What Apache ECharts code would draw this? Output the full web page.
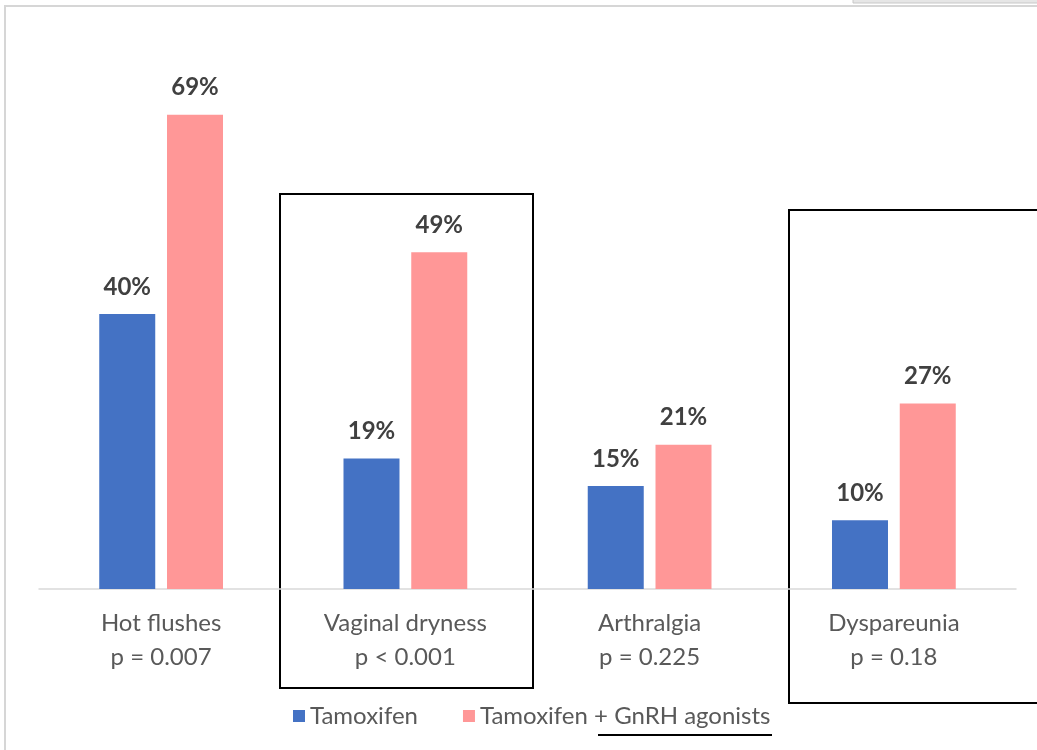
<!DOCTYPE html>
<html>
<head>
<meta charset="utf-8">
<script src="https://cdn.jsdelivr.net/npm/echarts@6/dist/echarts.min.js"></script>
<style>
  html, body { margin: 0; padding: 0; background: #fff; }
  #chart { width: 1037px; height: 750px; }
</style>
</head>
<body>
<div id="chart"></div>
<script>
// Side effects by treatment arm (% of patients)
const categories = ['Hot flushes', 'Vaginal dryness', 'Arthralgia', 'Dyspareunia'];
const pValues = ['p = 0.007', 'p < 0.001', 'p = 0.225', 'p = 0.18'];
const tamoxifen = [40, 19, 15, 10];
const tamoxifenGnrh = [69, 49, 21, 27];
const seriesNames = ['Tamoxifen', 'Tamoxifen + GnRH agonists'];

const FONT = 'Lato, "Open Sans", sans-serif';

const chart = echarts.init(document.getElementById('chart'));

const valueLabel = {
  show: true,
  position: 'top',
  distance: 15,
  formatter: p => p.value + '%',
  color: '#404040',
  fontFamily: FONT,
  fontWeight: 'bold',
  fontSize: 24
};

chart.setOption({
  animation: false,
  backgroundColor: '#ffffff',
  grid: { left: 39, right: 21, top: 39, bottom: 161 },
  legend: {
    left: 288,
    top: 699,
    itemWidth: 12,
    itemHeight: 12,
    itemGap: 45,
    icon: 'rect',
    textStyle: { color: '#595959', fontFamily: FONT, fontSize: 24 },
    data: seriesNames
  },
  xAxis: {
    type: 'category',
    data: categories.map((c, i) => c + '\n' + pValues[i]),
    axisLine: { lineStyle: { color: '#d9d9d9', width: 1.5 } },
    axisTick: { show: false },
    axisLabel: {
      margin: 17,
      color: '#595959',
      fontFamily: FONT,
      fontSize: 24,
      lineHeight: 34
    }
  },
  yAxis: {
    type: 'value',
    min: 0,
    max: 80,
    show: false
  },
  series: [
    {
      name: seriesNames[0],
      type: 'bar',
      data: tamoxifen,
      barWidth: 56,
      barGap: '21%',
      itemStyle: { color: '#4472C4' },
      label: valueLabel
    },
    {
      name: seriesNames[1],
      type: 'bar',
      data: tamoxifenGnrh,
      barWidth: 56,
      itemStyle: { color: '#FF9797' },
      label: valueLabel
    }
  ],
  graphic: [
    // outer frame of the chart area
    { type: 'polyline', shape: { points: [[5, 760], [5, 6], [1045, 6]] },
      style: { stroke: '#d6d6d6', lineWidth: 2, fill: null } },
    // strip along the top right edge
    { type: 'rect', shape: { x: 853, y: -2, width: 190, height: 5 },
      style: { fill: '#e6e6e6', stroke: '#c8c8c8', lineWidth: 1 } },
    // highlight boxes around the significant outcomes
    { type: 'rect', shape: { x: 280, y: 194, width: 253, height: 494 },
      style: { fill: null, stroke: '#000', lineWidth: 2 } },
    { type: 'rect', shape: { x: 789, y: 210, width: 260, height: 493 },
      style: { fill: null, stroke: '#000', lineWidth: 2 } },
    // underline beneath the combined-therapy legend entry
    { type: 'line', shape: { x1: 598, y1: 735, x2: 772, y2: 735 },
      style: { stroke: '#000', lineWidth: 2 } }
  ]
});
</script>
</body>
</html>
